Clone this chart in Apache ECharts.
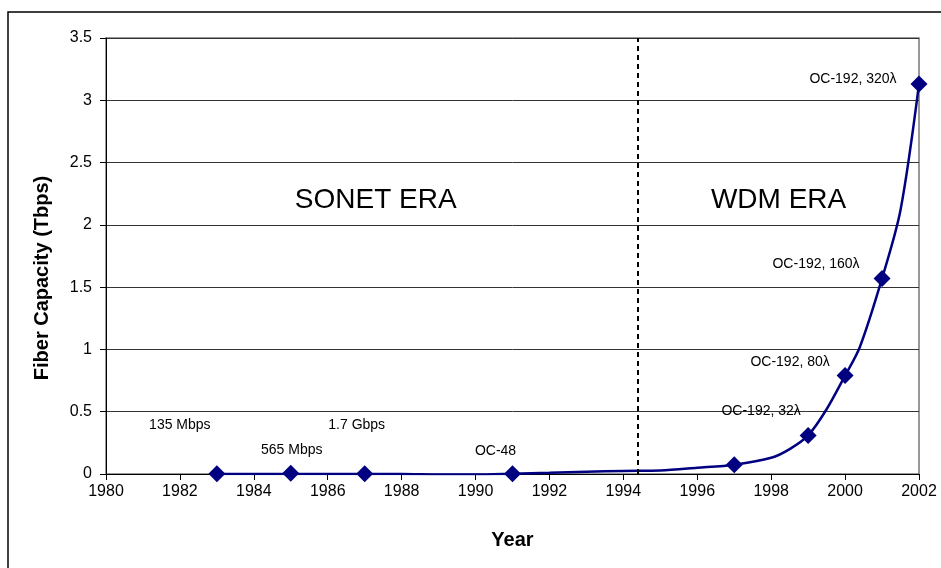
<!DOCTYPE html>
<html>
<head>
<meta charset="utf-8">
<script src="https://cdn.jsdelivr.net/npm/echarts@6/dist/echarts.min.js"></script>
<style>
  html, body { margin: 0; padding: 0; background: #fff; }
  #chart-panel { width: 941px; height: 568px; }
</style>
</head>
<body>
<div id="chart-panel"></div>
<script>
// smoothed capacity curve (Tbps)
var curveYears = [1983, 1985, 1987, 1988, 1989, 1990, 1991, 1992, 1993, 1994, 1995, 1996, 1997, 1998, 1998.5, 1999, 1999.5, 2000, 2000.4, 2001, 2001.5, 2002];
var curveValues = [0, 0, 0, 0, -0.004, -0.004, 0.0025, 0.01, 0.018, 0.025, 0.028, 0.05, 0.075, 0.13, 0.2, 0.31, 0.52, 0.79, 1.02, 1.57, 2.12, 3.13];

// milestones with diamond markers
var pointYears = [1983, 1985, 1987, 1991, 1997, 1999, 2000, 2001, 2002];
var pointValues = [0.00135, 0.00565, 0.0017, 0.0025, 0.075, 0.31, 0.79, 1.57, 3.13];
var pointNames = ['135 Mbps', '565 Mbps', '1.7 Gbps', 'OC-48', '', 'OC-192, 32λ', 'OC-192, 80λ', 'OC-192, 160λ', 'OC-192, 320λ'];
// label offsets from each marker, in pixels
var labelOffsets = [[-37, -49], [1, -23], [-8, -49], [-17, -23], [0, 0], [-47, -24], [-55, -13], [-66, -14], [-66, -5]];

var eraNames = ['SONET ERA', 'WDM ERA'];
var eraYears = [1987.3, 1998.2];
var eraLevel = 2.2;
var boundaryYear = 1994.4;

var navy = '#000080';
var font = 'Liberation Sans, Arial, sans-serif';

var lineData = curveYears.map(function (y, i) { return [y, curveValues[i]]; });
var pointData = pointYears.map(function (y, i) {
    return {
        value: [y, pointValues[i]],
        label: {
            show: pointNames[i] !== '',
            formatter: pointNames[i],
            offset: labelOffsets[i]
        }
    };
});

option = {
    animation: false,
    backgroundColor: '#fff',
    textStyle: { fontFamily: font },
    graphic: [{
        type: 'rect',
        shape: { x: 8, y: 12, width: 1000, height: 700 },
        style: { fill: 'none', stroke: '#000', lineWidth: 1.5 },
        silent: true
    }],
    grid: {
        left: 106,
        right: 22,
        top: 38,
        bottom: 94,
        show: true,
        borderColor: '#777',
        borderWidth: 1.5
    },
    xAxis: {
        type: 'value',
        min: 1980,
        max: 2002,
        interval: 2,
        name: 'Year',
        nameLocation: 'middle',
        nameGap: 56,
        nameTextStyle: { fontSize: 20, fontWeight: 'bold', color: '#000', fontFamily: font },
        axisLine: { lineStyle: { color: '#000', width: 1 } },
        axisTick: { show: true, length: 6, lineStyle: { color: '#000' } },
        axisLabel: {
            color: '#000',
            fontSize: 16,
            margin: 10,
            formatter: function (v) { return String(v); }
        },
        splitLine: { show: false }
    },
    yAxis: {
        type: 'value',
        min: 0,
        max: 3.5,
        interval: 0.5,
        name: 'Fiber Capacity (Tbps)',
        nameLocation: 'middle',
        nameGap: 54,
        nameTextStyle: {
            fontSize: 20, fontWeight: 'bold', color: '#000', fontFamily: font,
            padding: [0, 44, 0, 0]
        },
        axisLine: { show: true, lineStyle: { color: '#000', width: 1 } },
        axisTick: { show: true, length: 6, lineStyle: { color: '#000' } },
        axisLabel: { color: '#000', fontSize: 16, margin: 14 },
        splitLine: { show: true, lineStyle: { color: '#333', width: 1 } }
    },
    series: [{
        name: 'capacity',
        type: 'line',
        data: lineData,
        smooth: 0.3,
        showSymbol: false,
        lineStyle: { color: navy, width: 2.5 },
        z: 3,
        markLine: {
            silent: true,
            symbol: 'none',
            label: { show: false },
            lineStyle: { color: '#000', type: [5, 4], width: 2 },
            data: [{ xAxis: boundaryYear }]
        },
        markPoint: {
            silent: true,
            symbol: 'circle',
            symbolSize: 0,
            label: {
                show: true,
                position: 'inside',
                color: '#000',
                fontSize: 28,
                fontFamily: font,
                formatter: function (p) { return p.name; }
            },
            data: eraNames.map(function (n, i) {
                return { name: n, coord: [eraYears[i], eraLevel] };
            })
        }
    }, {
        name: 'milestones',
        type: 'scatter',
        data: pointData,
        symbol: 'diamond',
        symbolSize: 17,
        itemStyle: { color: navy, opacity: 1 },
        z: 4,
        label: {
            position: 'inside',
            align: 'center',
            verticalAlign: 'middle',
            color: '#000',
            fontSize: 14,
            fontFamily: font
        }
    }]
};

var chart = echarts.init(document.getElementById('chart-panel'));
chart.setOption(option);
</script>
</body>
</html>
